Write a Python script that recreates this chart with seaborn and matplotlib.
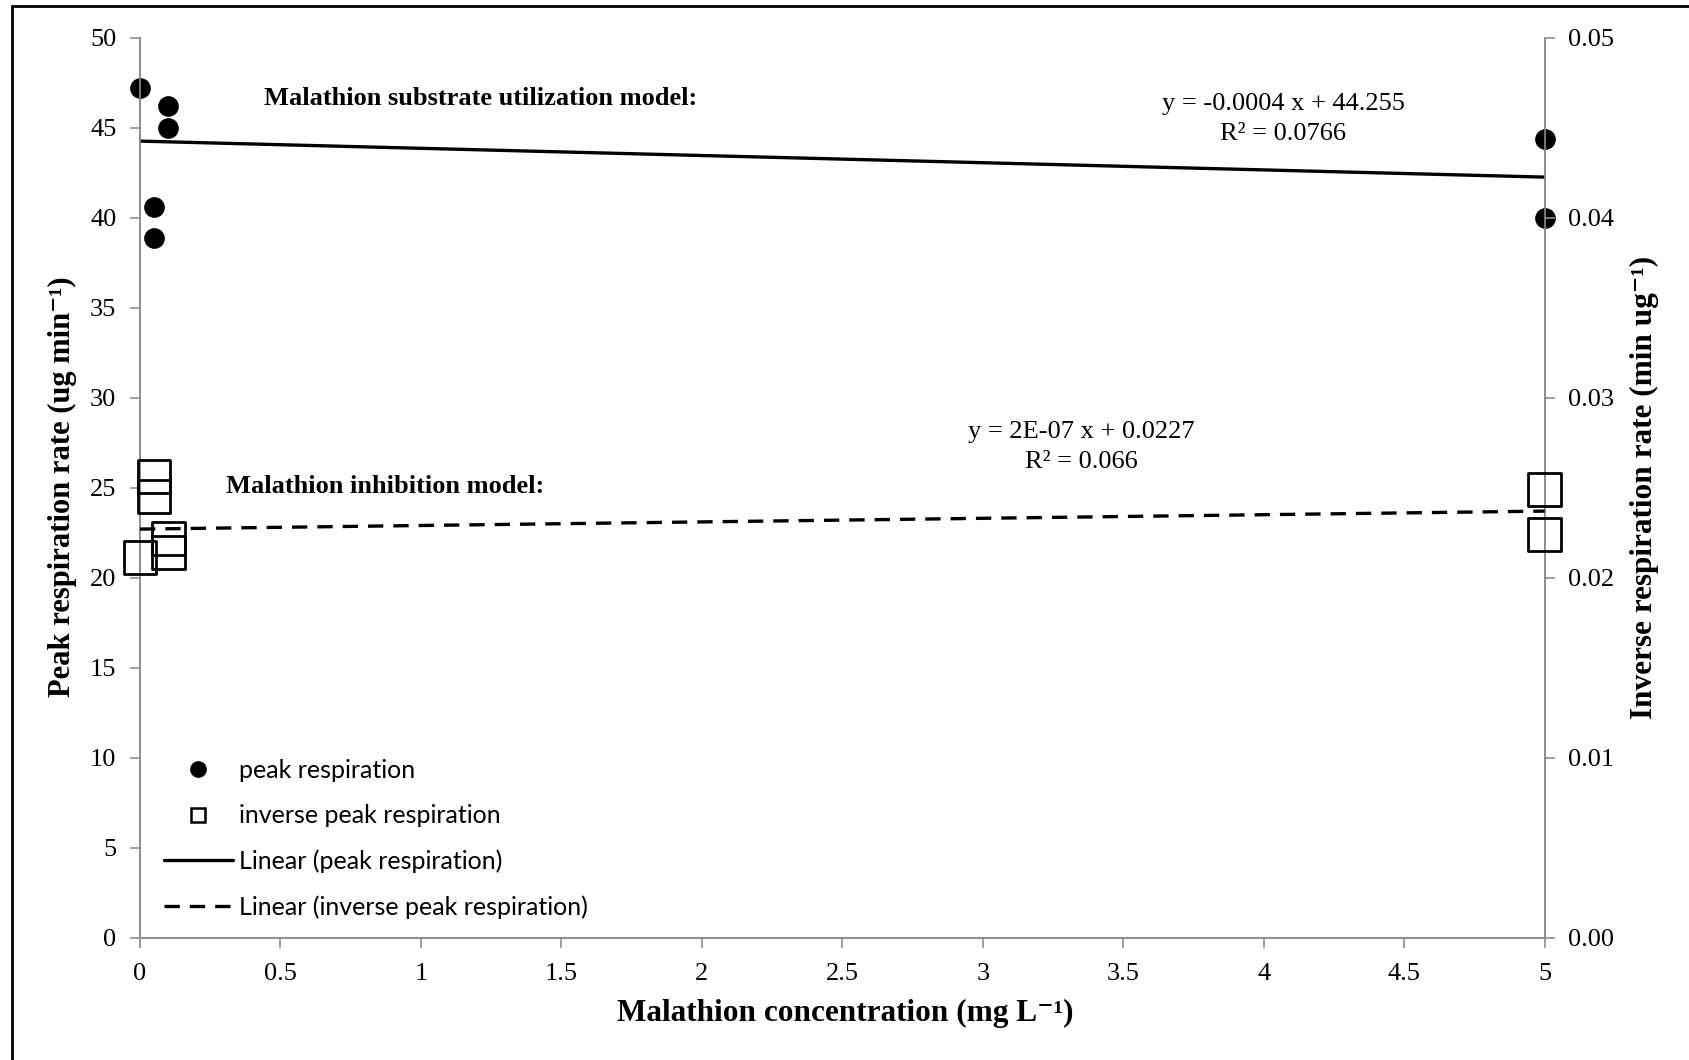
import matplotlib
matplotlib.use("Agg")
import matplotlib.pyplot as plt
import seaborn as sns
import numpy as np
import pandas as pd
from matplotlib.lines import Line2D

# ---------------- data ----------------
conc_peak = [0, 0.05, 0.05, 0.1, 0.1, 5, 5]
peak_resp = [47.2, 40.6, 38.9, 46.2, 45.0, 44.4, 40.0]
conc_inv = [0, 0.05, 0.05, 0.1, 0.1, 5, 5]
inv_resp = [0.0211, 0.0256, 0.0245, 0.0222, 0.0214, 0.0249, 0.0224]
# trend-line coefficients (per ug/L, as given in the equations)
peak_slope, peak_intercept = -0.0004, 44.255
inv_slope, inv_intercept = 2e-07, 0.0227
trend_x = [0, 5]
x_ticks = [0, 0.5, 1, 1.5, 2, 2.5, 3, 3.5, 4, 4.5, 5]
x_ticklabels = ["0", "0.5", "1", "1.5", "2", "2.5", "3", "3.5", "4", "4.5", "5"]
left_ticks = list(range(0, 55, 5))
right_ticks = [0.0, 0.01, 0.02, 0.03, 0.04, 0.05]
legend_labels = ["peak respiration", "inverse peak respiration",
                 "Linear (peak respiration)", "Linear (inverse peak respiration)"]

sns.set_theme(style="white")
serif = ["Liberation Serif", "DejaVu Serif"]
plt.rcParams["font.family"] = serif
plt.rcParams["text.color"] = "black"
plt.rcParams["axes.labelcolor"] = "black"
plt.rcParams["xtick.color"] = "black"
plt.rcParams["ytick.color"] = "black"

fig = plt.figure(figsize=(16.9, 10.6), dpi=100)
ax = fig.add_axes([140 / 1690, 1 - 937.7 / 1060, 1404.6 / 1690, 900 / 1060])
ax2 = ax.twinx()

gray = "#8c8c8c"
tick_fs = 19

df_peak = pd.DataFrame({"x": conc_peak, "y": peak_resp})
df_inv = pd.DataFrame({"x": conc_inv, "y": inv_resp})
tx = np.array(trend_x, dtype=float)
df_tp = pd.DataFrame({"x": tx, "y": peak_intercept + peak_slope * 1000 * tx})
df_ti = pd.DataFrame({"x": tx, "y": inv_intercept + inv_slope * 1000 * tx})

dash = (0, (4.6, 3.0))
sns.lineplot(data=df_tp, x="x", y="y", ax=ax, color="black", lw=2.4, zorder=3)
sns.scatterplot(data=df_peak, x="x", y="y", ax=ax, color="black", s=190,
                marker="o", edgecolor="black", zorder=4, clip_on=False)

sns.lineplot(data=df_ti, x="x", y="y", ax=ax2, color="black", lw=2.4,
             linestyle=dash, zorder=3)
sns.scatterplot(data=df_inv, x="x", y="y", ax=ax2, marker="s", s=560,
                facecolor="none", edgecolor="black", linewidth=2.0,
                zorder=4, clip_on=False)

for a in (ax, ax2):
    a.set_xlim(0, 5)
    a.set_xlabel("")
    a.set_ylabel("")
    a.spines["top"].set_visible(False)
    for s in ("left", "right", "bottom"):
        a.spines[s].set_color(gray)
        a.spines[s].set_linewidth(1.2)

ax.set_ylim(0, 50)
ax2.set_ylim(0, 0.05)
ax.set_xticks(x_ticks)
ax.set_xticklabels(x_ticklabels, fontfamily=serif)
ax.set_yticks(left_ticks)
ax.set_yticklabels([str(v) for v in left_ticks], fontfamily=serif)
ax2.set_yticks(right_ticks)
ax2.set_yticklabels([f"{v:.2f}" for v in right_ticks], fontfamily=serif)

ax.tick_params(axis="x", direction="out", length=7, width=1.2, color=gray,
               labelcolor="black", labelsize=tick_fs, pad=11, bottom=True)
ax.tick_params(axis="y", direction="out", length=7, width=1.2, color=gray,
               labelcolor="black", labelsize=tick_fs, pad=10, left=True)
ax2.tick_params(axis="y", direction="out", length=7, width=1.2, color=gray,
                labelcolor="black", labelsize=tick_fs, pad=10, right=True)

lab_fs = 22.5
fig.text(845 / 1690, 1 - 1013 / 1060, "Malathion concentration (mg L\u207b\u00b9)",
         ha="center", va="center", fontsize=lab_fs, fontweight="bold", family=serif,
         color="black")
fig.text(62 / 1690, 1 - 487 / 1060, "Peak respiration rate (ug min\u207b\u00b9)",
         ha="center", va="center", rotation=90, fontsize=22, fontweight="bold",
         family=serif, color="black")
fig.text(1644 / 1690, 1 - 487 / 1060, "Inverse respiration rate (min ug\u207b\u00b9)",
         ha="center", va="center", rotation=90, fontsize=lab_fs, fontweight="bold",
         family=serif, color="black")

ann_fs = 19
ax.text(0.441, 46.6, "Malathion substrate utilization model:", fontsize=ann_fs,
        fontweight="bold", ha="left", va="center", color="black")
ax.text(0.307, 25.06, "Malathion inhibition model:", fontsize=ann_fs,
        fontweight="bold", ha="left", va="center", color="black")
ax.text(4.07, 45.5, "y = -0.0004 x + 44.255\nR² = 0.0766", fontsize=ann_fs,
        ha="center", va="center", linespacing=1.45, color="black")
ax.text(3.35, 27.25, "y = 2E-07 x + 0.0227\nR² = 0.066", fontsize=ann_fs,
        ha="center", va="center", linespacing=1.45, color="black")

handles = [
    Line2D([], [], marker="o", color="black", linestyle="none", markersize=11),
    Line2D([], [], marker="s", markerfacecolor="none", markeredgecolor="black",
           markeredgewidth=1.8, linestyle="none", markersize=10.5),
    Line2D([], [], color="black", lw=2.4),
    Line2D([], [], color="black", lw=2.4, linestyle=dash),
]
leg = ax2.legend(handles, legend_labels, loc="upper left",
                 bbox_to_anchor=(164 / 1690, 1 - 759 / 1060),
                 bbox_transform=fig.transFigure, frameon=False,
                 prop={"family": "Lato", "size": 18}, borderpad=0,
                 handlelength=2.76, handletextpad=0.25, labelspacing=0.89,
                 borderaxespad=0, labelcolor="black")

# outer frame (top and left edges visible in the reference)
fig.add_artist(Line2D([12 / 1690, 12 / 1690], [0, 1 - 6 / 1060],
                      transform=fig.transFigure, color="black", lw=2))
fig.add_artist(Line2D([12 / 1690, 1], [1 - 6 / 1060, 1 - 6 / 1060],
                      transform=fig.transFigure, color="black", lw=2))

fig.savefig("out.png", dpi=100)
